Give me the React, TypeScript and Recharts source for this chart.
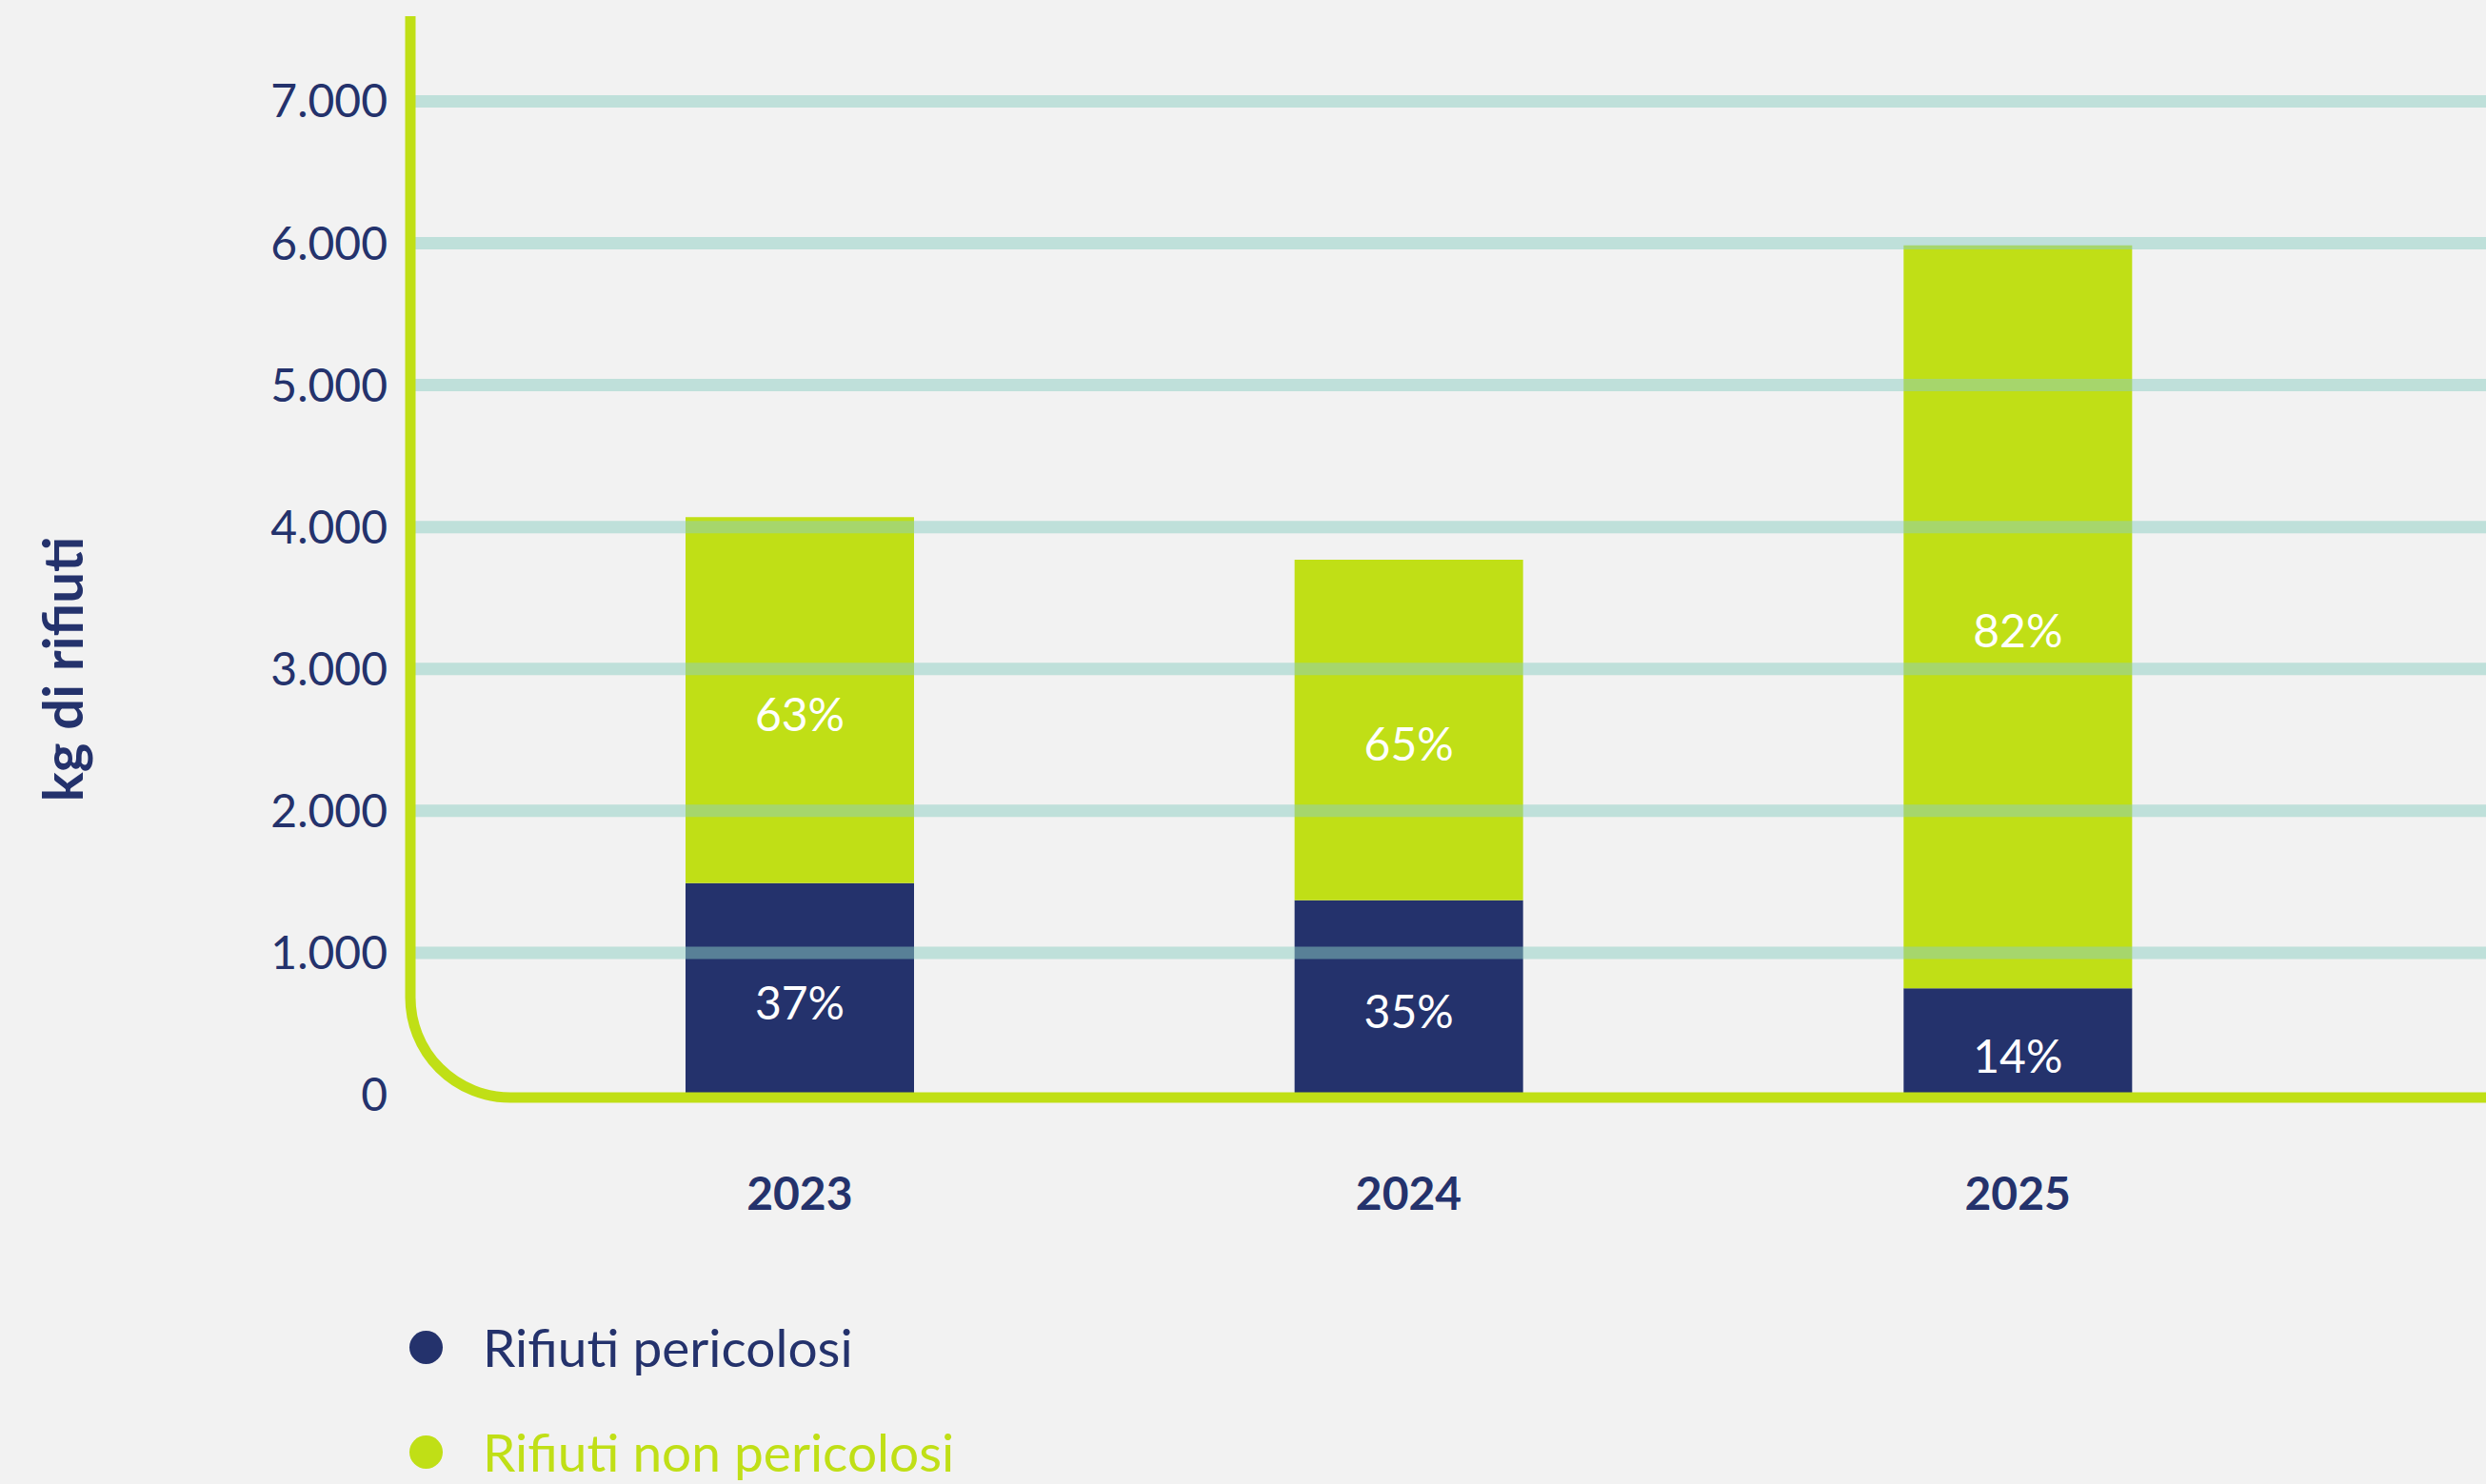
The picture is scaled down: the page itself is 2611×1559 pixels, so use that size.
import React from 'react';
import { BarChart, Bar, XAxis, YAxis, ReferenceLine, LabelList } from 'recharts';

const years = ['2023', '2024', '2025'];
const pericolosi = [1490, 1370, 750];
const nonPericolosi = [2580, 2400, 5235];
const pericolosiPct = ['37%', '35%', '14%'];
const nonPericolosiPct = ['63%', '65%', '82%'];
const yTicks = [0, 1000, 2000, 3000, 4000, 5000, 6000, 7000];
const yMax = 7600;
const seriesNames = ['Rifiuti pericolosi', 'Rifiuti non pericolosi'];

const NAVY = '#24326c';
const LIME = '#c0df16';
const BG = '#f2f2f2';
const FONT = 'Lato, "Open Sans", sans-serif';
const PLOT_TOP = 17;

const data = years.map((year, i) => ({
  year,
  pericolosi: pericolosi[i],
  nonPericolosi: nonPericolosi[i],
  pPct: pericolosiPct[i],
  npPct: nonPericolosiPct[i],
}));

const fmt = (v: number) => String(v).replace(/\B(?=(\d{3})+(?!\d))/g, '.');

// L-shaped axis with a rounded corner, hung on the zero line
const AxisFrame = (props: any) => {
  const { x1, y1, x2 } = props;
  const left = Math.min(x1, x2);
  const right = Math.max(x1, x2);
  const bottom = y1 + 3;
  const r = 105;
  const d = `M${left},${PLOT_TOP} L${left},${bottom - r} A${r},${r} 0 0 0 ${left + r},${bottom} L${right},${bottom}`;
  return <path d={d} fill="none" stroke={LIME} strokeWidth={11} />;
};

// percentage inside the segment, sitting a touch below its middle
const PctLabel = (props: any) => {
  const { x, y, width, height, value } = props;
  return (
    <text
      x={x + width / 2}
      y={y + height / 2 + 14}
      textAnchor="middle"
      dominantBaseline="central"
      fill="#ffffff"
      fontSize={48}
      fontFamily={FONT}
    >
      {value}
    </text>
  );
};

export default function App() {
  const colors = [NAVY, LIME];
  return (
    <div style={{ position: 'absolute', left: 0, top: 0, width: 2611, height: 1559, background: BG, fontFamily: FONT, overflow: 'hidden' }}>
      <BarChart
        width={2611}
        height={1559}
        data={data}
        margin={{ top: PLOT_TOP, right: 0, bottom: 259, left: 0 }}
        barSize={240}
      >
        <XAxis
          dataKey="year"
          axisLine={false}
          tickLine={false}
          tickSize={0}
          tickMargin={87}
          height={150}
          padding={{ left: 89, right: 172 }}
          tick={{ fill: NAVY, fontSize: 48, fontWeight: 700, fontFamily: FONT }}
        />
        <YAxis
          width={431}
          domain={[0, yMax]}
          ticks={yTicks}
          interval={0}
          axisLine={false}
          tickLine={false}
          tickSize={0}
          tickMargin={24}
          tickFormatter={fmt}
          tick={{ fill: NAVY, fontSize: 48, fontFamily: FONT }}
        />
        <Bar dataKey="pericolosi" stackId="a" fill={NAVY} isAnimationActive={false}>
          <LabelList dataKey="pPct" content={PctLabel} />
        </Bar>
        <Bar dataKey="nonPericolosi" stackId="a" fill={LIME} isAnimationActive={false}>
          <LabelList dataKey="npPct" content={PctLabel} />
        </Bar>
        {yTicks.filter((t) => t > 0).map((t) => (
          <ReferenceLine key={t} y={t} stroke="#8ccec2" strokeOpacity={0.5} strokeWidth={13} />
        ))}
        <ReferenceLine y={0} shape={AxisFrame} />
      </BarChart>

      <div
        style={{
          position: 'absolute', left: 65, top: 703, transform: 'translate(-50%, -50%) rotate(-90deg)',
          whiteSpace: 'nowrap', fontSize: 58, fontWeight: 700, color: NAVY, lineHeight: 1,
        }}
      >
        kg di rifiuti
      </div>

      {seriesNames.map((name, i) => (
        <div
          key={name}
          style={{ position: 'absolute', left: 430, top: i === 0 ? 1387 : 1497, height: 56, display: 'flex', alignItems: 'center' }}
        >
          <span style={{ width: 35, height: 35, borderRadius: '50%', background: colors[i], display: 'inline-block' }} />
          <span style={{ marginLeft: 42, fontSize: 55, lineHeight: 1, color: colors[i], whiteSpace: 'nowrap' }}>{name}</span>
        </div>
      ))}
    </div>
  );
}
